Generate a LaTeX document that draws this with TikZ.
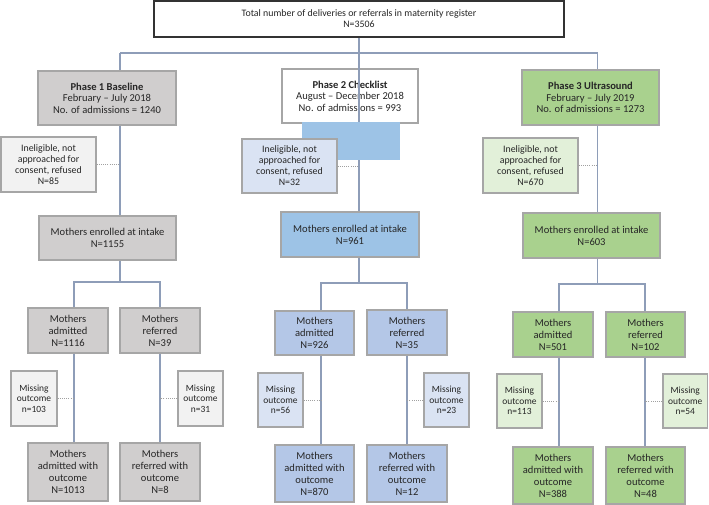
\documentclass[tikz,border=0pt]{standalone}
\usepackage{fontspec}
\setmainfont{Carlito}
\definecolor{txt}{HTML}{262626}
\definecolor{bord}{HTML}{A6A6A6}
\definecolor{conncol}{HTML}{8E9DB8}
\definecolor{dotcol}{HTML}{A0A0A0}
\definecolor{gA}{HTML}{D0CECE}
\definecolor{gB}{HTML}{F2F2F2}
\definecolor{bA}{HTML}{9DC3E6}
\definecolor{bB}{HTML}{B4C7E7}
\definecolor{bC}{HTML}{DAE3F3}
\definecolor{vA}{HTML}{A9D18E}
\definecolor{vB}{HTML}{E2F0D9}
\tikzset{
  box/.style={draw=bord, line width=1.1pt, inner sep=0pt, align=center, text=txt},
  big/.style={font=\fontsize{7.9}{8.7}\selectfont},
  mid/.style={font=\fontsize{7.9}{9}\selectfont},
  small/.style={font=\fontsize{7.4}{8.25}\selectfont},
  tiny/.style={font=\fontsize{7.1}{7.9}\selectfont},
  conn/.style={draw=conncol, line width=0.8pt},
  dotln/.style={draw=dotcol, line width=0.7pt, dash pattern=on 0.8pt off 0.8pt},
}
\newcommand\bx[7]{\node[box,#2,minimum width={(#5-#3)*0.75pt},minimum height={(#6-#4)*0.75pt}] (#1) at ({(#3+#5)/2},{(#4+#6)/2}) {#7};}
\begin{document}
\begin{tikzpicture}[x=0.75pt,y=-0.75pt]
\useasboundingbox (0,0) rectangle (709,505);
% coordinates
\coordinate (j1) at (120,53);
\coordinate (j2) at (359,53);
\coordinate (j3) at (597.5,53);
\coordinate (bl1) at (74,282);
\coordinate (br1) at (160,282);
\coordinate (bl2) at (321,283);
\coordinate (br2) at (407,283);
\coordinate (bl3) at (559,284);
\coordinate (br3) at (645,284);
% top
\bx{T}{draw=black!80,line width=1.1pt,fill=white,small}{154}{1}{564}{37}{Total number of deliveries or referrals in maternity register\\N=3506}
% phase 2 box (line goes over it)
\bx{P2}{fill=white,big}{282}{69}{418}{123}{\textbf{Phase 2 Checklist}\\August -- December 2018\\No. of admissions = 993}
\bx{E2}{fill=bA,mid}{281}{212}{419}{257}{Mothers enrolled at intake\\N=961}
\draw[conn] (T.south) -- (E2.north -| T.south);
% blue block
\fill[bA] (302,122) rectangle (400,160);
% phase 1, 3
\bx{P1}{fill=gA,big}{38}{71}{176}{125}{\textbf{Phase 1 Baseline}\\February -- July 2018\\No. of admissions = 1240}
\bx{P3}{fill=vA,big}{522}{70}{659}{125}{\textbf{Phase 3 Ultrasound}\\February -- July 2019\\No. of admissions = 1273}
% ineligible
\bx{I1}{fill=gB,small}{1}{137}{96}{192}{Ineligible, not\\approached for\\consent, refused\\N=85}
\bx{I2}{fill=bC,small}{242}{139}{337}{193}{Ineligible, not\\approached for\\consent, refused\\N=32}
\bx{I3}{fill=vB,small}{483}{138}{578}{193}{Ineligible, not\\approached for\\consent, refused\\N=670}
% enrolled
\bx{E1}{fill=gA,mid}{39}{216}{176}{260}{Mothers enrolled at intake\\N=1155}
\bx{E3}{fill=vA,mid}{523}{213}{660}{258}{Mothers enrolled at intake\\N=603}
% admitted / referred
\bx{A1}{fill=gA,mid}{28}{308}{108}{353}{Mothers\\admitted\\N=1116}
\bx{R1}{fill=gA,mid}{120}{308}{200}{353}{Mothers\\referred\\N=39}
\bx{A2}{fill=bB,mid}{275}{311}{354}{355}{Mothers\\admitted\\N=926}
\bx{R2}{fill=bB,mid}{367}{310}{447}{355}{Mothers\\referred\\N=35}
\bx{A3}{fill=vA,mid}{513}{312}{593}{357}{Mothers\\admitted\\N=501}
\bx{R3}{fill=vA,mid}{606}{312}{685}{357}{Mothers\\referred\\N=102}
% missing
\bx{M1a}{fill=gB,tiny}{11}{371}{57}{426}{Missing\\outcome\\n=103}
\bx{M1b}{fill=gB,tiny}{178}{371}{223}{426}{Missing\\outcome\\n=31}
\bx{M2a}{fill=bC,tiny}{258}{373}{303}{427}{Missing\\outcome\\n=56}
\bx{M2b}{fill=bC,tiny}{424}{373}{469}{427}{Missing\\outcome\\n=23}
\bx{M3a}{fill=vB,tiny}{497}{374}{542}{428}{Missing\\outcome\\n=113}
\bx{M3b}{fill=vB,tiny}{663}{374}{707.5}{428}{Missing\\outcome\\n=54}
% outcome
\bx{O1a}{fill=gA,mid}{28}{443}{108}{501}{Mothers\\admitted with\\outcome\\N=1013}
\bx{O1b}{fill=gA,mid}{120}{443}{200}{501}{Mothers\\referred with\\outcome\\N=8}
\bx{O2a}{fill=bB,mid}{275}{445}{354}{502}{Mothers\\admitted with\\outcome\\N=870}
\bx{O2b}{fill=bB,mid}{367}{445}{447}{502}{Mothers\\referred with\\outcome\\N=12}
\bx{O3a}{fill=vA,mid}{513}{447}{593}{504}{Mothers\\admitted with\\outcome\\N=388}
\bx{O3b}{fill=vA,mid}{606}{447}{685}{504}{Mothers\\referred with\\outcome\\N=48}
% top connectors
\draw[conn] (j1) -- (j3);
\draw[conn] (j1) -- (P1.north -| j1);
\draw[conn] (j3) -- (P3.north -| j3);
\draw[conn] (P1.south -| j1) -- (E1.north -| j1);
\draw[conn] (P3.south -| j3) -- (E3.north -| j3);
% dotted ineligible
\draw[dotln] (I1.east) -- (I1.east -| j1);
\draw[dotln] (I2.east) -- (I2.east -| j2);
\draw[dotln] (I3.east) -- (I3.east -| j3);
% branches
\draw[conn] (E1.south -| j1) -- (j1 |- bl1);
\draw[conn] (A1.north -| bl1) -- (bl1) -- (br1) -- (R1.north -| br1);
\draw[conn] (E2.south -| j2) -- (j2 |- bl2);
\draw[conn] (A2.north -| bl2) -- (bl2) -- (br2) -- (R2.north -| br2);
\draw[conn] (E3.south -| j3) -- (j3 |- bl3);
\draw[conn] (A3.north -| bl3) -- (bl3) -- (br3) -- (R3.north -| br3);
% lower verticals
\draw[conn] (A1.south -| bl1) -- (O1a.north -| bl1);
\draw[conn] (R1.south -| br1) -- (O1b.north -| br1);
\draw[conn] (A2.south -| bl2) -- (O2a.north -| bl2);
\draw[conn] (R2.south -| br2) -- (O2b.north -| br2);
\draw[conn] (A3.south -| bl3) -- (O3a.north -| bl3);
\draw[conn] (R3.south -| br3) -- (O3b.north -| br3);
% dotted missing
\draw[dotln] (M1a.east) -- (M1a.east -| bl1);
\draw[dotln] (M1b.west) -- (M1b.west -| br1);
\draw[dotln] (M2a.east) -- (M2a.east -| bl2);
\draw[dotln] (M2b.west) -- (M2b.west -| br2);
\draw[dotln] (M3a.east) -- (M3a.east -| bl3);
\draw[dotln] (M3b.west) -- (M3b.west -| br3);
\end{tikzpicture}
\end{document}
